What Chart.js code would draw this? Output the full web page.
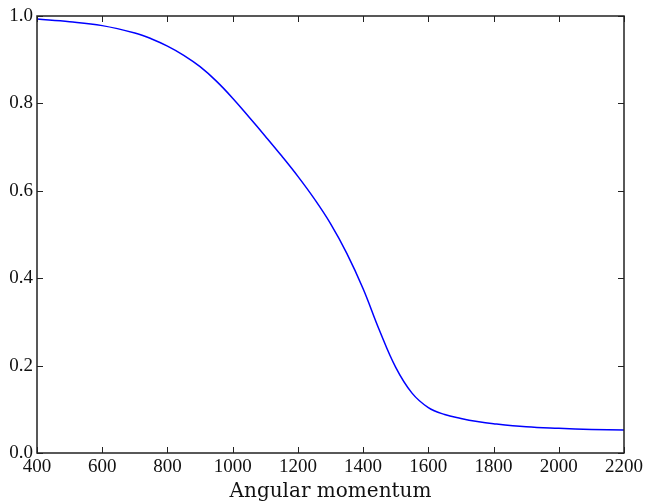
<!DOCTYPE html>
<html>
<head>
<meta charset="utf-8">
<script src="https://cdn.jsdelivr.net/npm/chart.js@4/dist/chart.umd.min.js"></script>
<style>
  html, body { margin: 0; padding: 0; background: #fff; }
  #wrap { width: 646px; height: 504px; }
</style>
</head>
<body>
<div id="wrap"><canvas id="myChart" width="646" height="504"></canvas></div>
<script>
// angular momentum samples and the curve value at each
const momentum = [400, 500, 600, 700, 750, 800, 850, 900, 950, 1000, 1050, 1100, 1150, 1200, 1250, 1300,
    1350, 1400, 1450, 1500, 1550, 1600, 1650, 1700, 1750, 1800, 1900, 2000, 2100, 2200];
const curveValues = [0.993, 0.987, 0.978, 0.961, 0.948, 0.931, 0.910, 0.884, 0.851, 0.812, 0.769, 0.725, 0.680,
    0.633, 0.582, 0.525, 0.457, 0.376, 0.281, 0.196, 0.137, 0.104, 0.088, 0.079, 0.072, 0.067, 0.060, 0.0565, 0.054, 0.0526];

// axis ticks
const xTicks = [400, 600, 800, 1000, 1200, 1400, 1600, 1800, 2000, 2200];
const yTicks = [0.0, 0.2, 0.4, 0.6, 0.8, 1.0];

const points = momentum.map((m, i) => ({ x: m, y: curveValues[i] }));

// box around the plot with short ticks pointing inwards on every side
const frameTicks = {
    id: 'frameTicks',
    afterDatasetsDraw(chart) {
        const { ctx, chartArea: a, scales } = chart;
        const len = 6;
        ctx.save();
        ctx.strokeStyle = '#222';
        ctx.lineWidth = 1;
        ctx.beginPath();
        xTicks.forEach(v => {
            const px = Math.round(scales.x.getPixelForValue(v)) + 0.5;
            ctx.moveTo(px, a.bottom); ctx.lineTo(px, a.bottom - len);
            ctx.moveTo(px, a.top); ctx.lineTo(px, a.top + len);
        });
        yTicks.forEach(v => {
            const py = Math.round(scales.y.getPixelForValue(v)) + 0.5;
            ctx.moveTo(a.left, py); ctx.lineTo(a.left + len, py);
            ctx.moveTo(a.right, py); ctx.lineTo(a.right - len, py);
        });
        ctx.stroke();
        ctx.lineWidth = 1.5;
        ctx.strokeRect(a.left, a.top, a.right - a.left, a.bottom - a.top);
        ctx.restore();
    }
};

const tickFont = { family: '"Liberation Serif", serif', size: 19 };

new Chart(document.getElementById('myChart'), {
    type: 'line',
    data: {
        datasets: [{
            data: points,
            borderColor: '#0000ff',
            borderWidth: 1.5,
            pointRadius: 0,
            fill: false,
            tension: 0.4
        }]
    },
    options: {
        responsive: false,
        animation: false,
        layout: { padding: { top: 16, right: 19, left: 0, bottom: 0 } },
        plugins: { legend: { display: false }, tooltip: { enabled: false } },
        scales: {
            x: {
                type: 'linear',
                min: 400,
                max: 2200,
                afterBuildTicks: s => { s.ticks = xTicks.map(v => ({ value: v })); },
                afterFit: s => { s.height = 51; },
                grid: { display: false, drawTicks: false },
                border: { display: false },
                ticks: {
                    autoSkip: false,
                    maxRotation: 0,
                    padding: 3,
                    color: '#111',
                    font: tickFont,
                    callback: v => String(v)
                },
                title: {
                    display: true,
                    text: 'Angular momentum',
                    color: '#111',
                    padding: 0,
                    font: { family: '"DejaVu Serif", serif', size: 20 }
                }
            },
            y: {
                min: 0,
                max: 1,
                afterBuildTicks: s => { s.ticks = yTicks.map(v => ({ value: v })); },
                afterFit: s => { s.width = 37; },
                grid: { display: false, drawTicks: false },
                border: { display: false },
                ticks: {
                    autoSkip: false,
                    padding: 4,
                    color: '#111',
                    font: tickFont,
                    callback: v => v.toFixed(1)
                }
            }
        }
    },
    plugins: [frameTicks]
});
</script>
</body>
</html>
